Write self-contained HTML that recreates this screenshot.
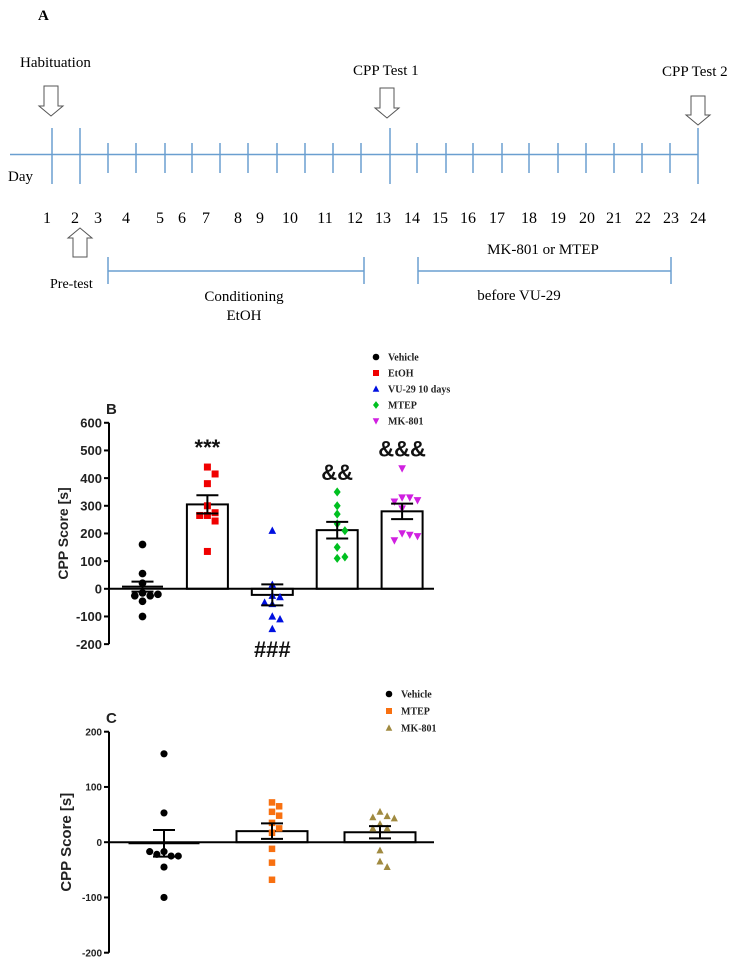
<!DOCTYPE html>
<html><head><meta charset="utf-8"><style>
html,body{margin:0;padding:0;background:#fff;}
svg{display:block;}
.serif{font-family:"Liberation Serif",serif;}
.sans{font-family:"Liberation Sans",sans-serif;}
</style></head><body>
<svg id="fig" width="738" height="964" viewBox="0 0 738 964" xmlns="http://www.w3.org/2000/svg">
<g id="panelA" class="serif" fill="#000">
<text x="38" y="20" font-size="15" font-weight="bold">A</text>
<text x="20" y="67" font-size="15">Habituation</text>
<text x="353" y="75" font-size="15">CPP Test 1</text>
<text x="662" y="76" font-size="15">CPP Test 2</text>
<text x="8" y="181" font-size="15">Day</text>
<text x="50" y="288" font-size="14">Pre-test</text>
<text x="244" y="301" font-size="15" text-anchor="middle">Conditioning</text>
<text x="244" y="320" font-size="15" text-anchor="middle">EtOH</text>
<text x="543" y="254" font-size="15" text-anchor="middle">MK-801 or MTEP</text>
<text x="519" y="300" font-size="15" text-anchor="middle">before VU-29</text>
<line x1="10" y1="154.5" x2="698" y2="154.5" stroke="#6a9fd0" stroke-width="1.5"/>
<g stroke="#6a9fd0" stroke-width="1.5">
<line x1="108" y1="271" x2="364" y2="271"/><line x1="108" y1="257" x2="108" y2="284"/><line x1="364" y1="257" x2="364" y2="284"/></g>
<g stroke="#6a9fd0" stroke-width="1.5">
<line x1="418" y1="271" x2="671" y2="271"/><line x1="418" y1="257" x2="418" y2="284"/><line x1="671" y1="257" x2="671" y2="284"/></g>
<g id="ticks"></g>
<g id="arrows" fill="#fff" stroke="#555" stroke-width="1"></g>
</g>
<g id="panelB"></g>
<g id="panelC"></g>
</svg>
<script>
const NS="http://www.w3.org/2000/svg";
function mk(parent,tag,attrs,text){const e=document.createElementNS(NS,tag);for(const k in attrs)e.setAttribute(k,attrs[k]);if(text!==undefined)e.textContent=text;parent.appendChild(e);return e;}

// ---- Timeline ----
const dayX=[52,80,108,136,165,192,220,248,277,305,333,361,390,417,446,473,502,529,558,586,614,642,670,698];
const labelX=[47,75,98,126,160,182,206,238,260,290,325,355,383,412,440,468,497,529,558,587,614,643,671,698];
const tg=document.getElementById('ticks');
dayX.forEach((x,i)=>{
  const big=(i===0||i===1||i===12||i===23);
  const t=mk(tg,'line',{x1:x,x2:x,y1:big?128:143,y2:big?184:173,stroke:'#6a9fd0','stroke-width':1.5});
  
  
  const l=mk(tg,'text',{x:labelX[i],y:223,'font-size':16,'text-anchor':'middle'},String(i+1));
  
  
});
const ag=document.getElementById('arrows');
function arrow(cx,y0,y1,down,name){
  const sw=7,hw=12,hh=10;
  let d;
  if(down){d=`M${cx-sw},${y0} L${cx+sw},${y0} L${cx+sw},${y1-hh} L${cx+hw},${y1-hh} L${cx},${y1} L${cx-hw},${y1-hh} L${cx-sw},${y1-hh} Z`;}
  else{d=`M${cx-sw},${y1} L${cx+sw},${y1} L${cx+sw},${y0+hh} L${cx+hw},${y0+hh} L${cx},${y0} L${cx-hw},${y0+hh} L${cx-sw},${y0+hh} Z`;}
  const p=mk(ag,'path',{d:d});
  
  
}
arrow(51,86,116,true,'habituation-arrow');
arrow(387,88,118,true,'cpp-test-1-arrow');
arrow(698,96,125,true,'cpp-test-2-arrow');
arrow(80,228,257,false,'pre-test-arrow');

// ---- Chart B data ----
const bGroups=["Vehicle","EtOH","VU-29 10 days","MTEP","MK-801"];
const bMeans=[8,305,-22,212,280];
const bSem=[18,33,38,30,28];
const bVehicle=[160,55,20,-15,-25,-25,-20,-45,-100];
const bEtOH=[440,415,380,300,275,265,265,245,135];
const bVU29=[210,15,-25,-30,-50,-55,-100,-110,-145];
const bMTEP=[350,300,270,235,210,150,110,115];
const bMK801=[435,330,330,315,320,290,200,195,175,190];
const bTicks=[600,500,400,300,200,100,0,-100,-200];
const bAnnot=["","***","###","&&","&&&"];

// ---- Chart C data ----
const cGroups=["Vehicle","MTEP","MK-801"];
const cMeans=[-2,20,18];
const cSem=[24,14,11];
const cVehicle=[160,53,-17,-25,-22,-25,-17,-45,-100];
const cMTEP=[72,65,55,48,35,25,17,-12,-37,-68];
const cMK801=[55,47,45,43,33,25,25,-15,-35,-45];
const cTicks=[200,100,0,-100,-200];

function marker(g,shape,color,x,y,s){
  let e;
  if(shape==='circle')e=mk(g,'circle',{cx:x,cy:y,r:s*0.55,fill:color});
  else if(shape==='square')e=mk(g,'rect',{x:x-s/2,y:y-s/2,width:s,height:s,fill:color});
  else if(shape==='tri')e=mk(g,'path',{d:`M${x},${y-s*0.6} L${x+s*0.55},${y+s*0.45} L${x-s*0.55},${y+s*0.45} Z`,fill:color});
  else if(shape==='tridown')e=mk(g,'path',{d:`M${x},${y+s*0.6} L${x+s*0.55},${y-s*0.45} L${x-s*0.55},${y-s*0.45} Z`,fill:color});
  else if(shape==='diamond')e=mk(g,'path',{d:`M${x},${y-s*0.65} L${x+s*0.5},${y} L${x},${y+s*0.65} L${x-s*0.5},${y} Z`,fill:color});
  return e;
}
// beeswarm-style: place each point at nearest non-overlapping horizontal offset
function swarm(ys,s){
  const placed=[];const out=[];
  ys.forEach(py=>{
    const cands=[0];for(let k=1;k<6;k++){cands.push(k*s*1.1);cands.push(-k*s*1.1);}
    let off=0;
    for(const c of cands){
      if(placed.every(p=>Math.hypot(p[0]-c,p[1]-py)>=s*1.05)){off=c;break;}
    }
    placed.push([off,py]);out.push(off);
  });
  return out;
}
function chart(gid,opt){
  const g=document.getElementById(gid);
  const y=v=>opt.y0-v*opt.k;
  const ax=mk(g,'line',{x1:opt.ax,x2:opt.ax,y1:y(opt.ticks[0]),y2:y(opt.ticks[opt.ticks.length-1]),stroke:'#000','stroke-width':2});
  
  
  opt.ticks.forEach(t=>{
    const tl=mk(g,'line',{x1:opt.ax-5,x2:opt.ax,y1:y(t),y2:y(t),stroke:'#000','stroke-width':2});
    
    
    const tx=mk(g,'text',{x:opt.ax-7,y:y(t)+opt.tfs*0.36,'font-size':opt.tfs,'font-weight':'bold','text-anchor':'end','class':'sans',fill:'#222'},String(t));
    
    
  });
  const yt=mk(g,'text',{x:0,y:0,'font-size':opt.titleFs,'font-weight':'bold','class':'sans','text-anchor':'middle',fill:'#222',transform:`translate(${opt.titleX},${y(opt.titleV)}) rotate(-90)`},'CPP Score [s]');
  
  
  const pl=mk(g,'text',{x:opt.ax-3,y:opt.labelY,'font-size':15,'font-weight':'bold','class':'sans',fill:'#222'},opt.label);
  
  
  opt.groups.forEach((name,i)=>{
    const cx=opt.x0+i*opt.step;
    if(opt.bar[i]){
      const top=Math.min(y(opt.means[i]),y(0)),h=Math.abs(y(opt.means[i])-y(0));
      const b=mk(g,'rect',{x:cx-opt.bw/2,y:top,width:opt.bw,height:h,fill:'#fff',stroke:'#000','stroke-width':2});
      
      
    }
  });
  const xa=mk(g,'line',{x1:opt.ax,x2:opt.xend,y1:y(0),y2:y(0),stroke:'#000','stroke-width':2});
  
  
  opt.groups.forEach((name,i)=>{
    const cx=opt.x0+i*opt.step;
    const pg=mk(g,'g',{});
    
    
    const vals=opt.points[i];const off=swarm(vals.map(y),opt.ms);
    vals.forEach((v,j)=>{
      const m=marker(pg,opt.shapes[i],opt.colors[i],cx+off[j],y(v),opt.ms);
      
      
    });
    if(!opt.bar[i]){
      const ml=mk(g,'line',{x1:cx-opt.bw/2,x2:cx+opt.bw/2,y1:y(opt.means[i]),y2:y(opt.means[i]),stroke:'#000','stroke-width':2});
      
      
    }
    const eg=mk(g,'g',{stroke:'#000','stroke-width':2});
    
    
    const hi=y(opt.means[i]+opt.sem[i]),lo=y(opt.means[i]-opt.sem[i]);
    mk(eg,'line',{x1:cx,x2:cx,y1:hi,y2:lo});
    mk(eg,'line',{x1:cx-11,x2:cx+11,y1:hi,y2:hi});
    mk(eg,'line',{x1:cx-11,x2:cx+11,y1:lo,y2:lo});
    if(opt.annot&&opt.annot[i]){
      const isHash=opt.annot[i][0]==='#';
      const top=isHash?y(Math.min(...vals))+28:y(Math.max(...vals))-12;
      const a=mk(g,'text',{x:cx,y:top,'font-size':22,'font-weight':'bold','class':'sans','text-anchor':'middle',fill:'#111'},opt.annot[i]);
      
      
    }
  });
  const lg=mk(g,'g',{});
  
  
  opt.groups.forEach((name,i)=>{
    const ly=opt.legY+i*opt.legStep;
    const e=mk(lg,'g',{});
    
    
    marker(e,opt.shapes[i],opt.colors[i],opt.legX,ly,6);
    mk(e,'text',{x:opt.legX+12,y:ly+3.5,'font-size':10,'font-weight':'bold','class':'serif',fill:'#222'},name);
  });
}
chart('panelB',{groups:bGroups,means:bMeans,sem:bSem,points:[bVehicle,bEtOH,bVU29,bMTEP,bMK801],
  ticks:bTicks,y0:588.8,k:0.2767,ax:109,xend:434,x0:142.5,step:64.9,bw:41,bar:[false,true,true,true,true],
  shapes:['circle','square','tri','diamond','tridown'],colors:['#000','#f00000','#0010e0','#00c020','#d020e0'],
  ms:7,tfs:13,titleFs:14,titleX:68,titleV:200,label:'B',labelY:414,annot:bAnnot,legX:376,legY:357,legStep:16});
chart('panelC',{groups:cGroups,means:cMeans,sem:cSem,points:[cVehicle,cMTEP,cMK801],
  ticks:cTicks,y0:842.2,k:0.5525,ax:109,xend:434,x0:164,step:108,bw:71,bar:[false,true,true],
  shapes:['circle','square','tri'],colors:['#000','#f87010','#a08a40'],
  ms:6.5,tfs:10,titleFs:15,titleX:71,titleV:0,label:'C',labelY:723,annot:null,legX:389,legY:694,legStep:17});
</script>
</body></html>
